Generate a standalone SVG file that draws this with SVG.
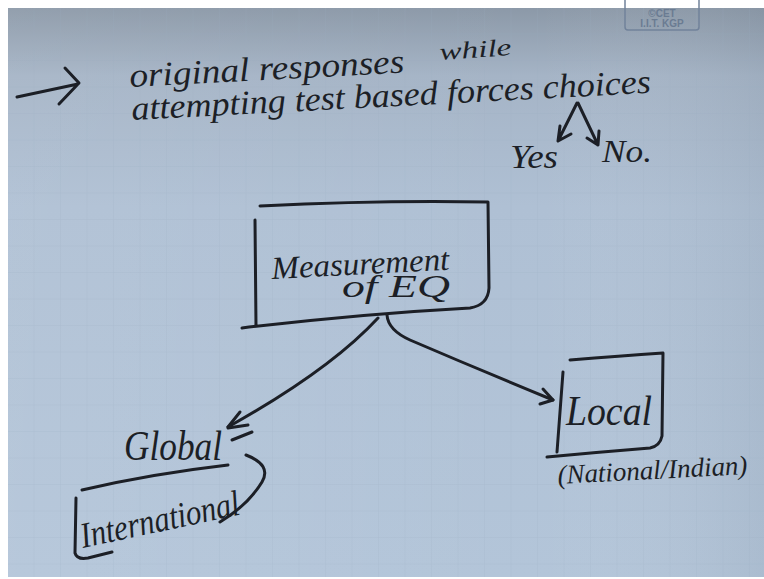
<svg xmlns="http://www.w3.org/2000/svg" width="764" height="579" viewBox="0 0 764 579">
  <defs>
    <linearGradient id="paper" x1="0" y1="0" x2="0" y2="1">
      <stop offset="0" stop-color="#8c99a8"/>
      <stop offset="0.12" stop-color="#a5b4c6"/>
      <stop offset="0.35" stop-color="#afc0d4"/>
      <stop offset="1" stop-color="#b3c5d9"/>
    </linearGradient>
    <linearGradient id="side" x1="0" y1="0" x2="1" y2="0">
      <stop offset="0" stop-color="#ffffff" stop-opacity="0.06"/>
      <stop offset="0.7" stop-color="#ffffff" stop-opacity="0"/>
      <stop offset="1" stop-color="#6d7a88" stop-opacity="0.12"/>
    </linearGradient>
    <pattern id="grid" width="26.5" height="26.5" patternUnits="userSpaceOnUse" x="8" y="8">
      <path d="M26.5 0V26.5M0 26.5H26.5" fill="none" stroke="#98aac0" stroke-width="1" opacity="0.3"/>
    </pattern>
  </defs>
  <style>
    .ink { fill: none; stroke: #1c1f26; stroke-width: 3; stroke-linecap: round; stroke-linejoin: round; }
    .hw { font-family: "Liberation Serif", serif; font-style: italic; fill: #1c1f26; }
    .wm { font-family: "Liberation Sans", sans-serif; font-weight: bold; fill: #6a7b92; }
  </style>

  <rect width="764" height="579" fill="#ffffff"/>
  <rect x="8" y="8" width="756" height="569" fill="url(#paper)"/>
  <rect x="8" y="8" width="756" height="569" fill="url(#side)"/>
  <rect x="8" y="8" width="756" height="569" fill="url(#grid)"/>

  <g id="watermark">
    <rect x="625" y="-4" width="74" height="34" rx="3" fill="none" stroke="#71829a" stroke-width="1.5"/>
    <text class="wm" x="662" y="17" font-size="10" text-anchor="middle">©CET</text>
    <text class="wm" x="662" y="27" font-size="10" text-anchor="middle">I.I.T. KGP</text>
  </g>

  <g id="note">
    <path class="ink" d="M17 97 L78 84 M65 68 L79 83 L59 104"/>
    <text class="hw" x="130" y="87" font-size="34" textLength="275" lengthAdjust="spacingAndGlyphs" transform="rotate(-3 130 87)">original responses</text>
    <text class="hw" x="440" y="60" font-size="24" textLength="72" lengthAdjust="spacingAndGlyphs" transform="rotate(-4 440 60)">while</text>
    <text class="hw" x="132" y="120" font-size="34" textLength="520" lengthAdjust="spacingAndGlyphs" transform="rotate(-3 132 120)">attempting test based forces choices</text>
    <path class="ink" d="M577 103 L558 141 M558 141 L560 126 M558 141 L571 134 M578 103 L598 145 M598 145 L587 138 M598 145 L599 131"/>
    <text class="hw" x="510" y="168" font-size="34" textLength="48" lengthAdjust="spacingAndGlyphs">Yes</text>
    <text class="hw" x="602" y="162" font-size="32" textLength="50" lengthAdjust="spacingAndGlyphs">No.</text>
  </g>

  <g id="measurement">
    <path class="ink" d="M260 206 Q380 200 488 202 L489 288 Q488 305 470 308 Q360 314 242 328 M255 220 L256 326"/>
    <text class="hw" x="272" y="279" font-size="32" textLength="178" lengthAdjust="spacingAndGlyphs" transform="rotate(-3 272 279)">Measurement</text>
    <text class="hw" x="342" y="297" font-size="32" textLength="108" lengthAdjust="spacingAndGlyphs">of  EQ</text>
  </g>

  <g id="connectors">
    <path class="ink" d="M378 318 Q330 370 228 427"/>
    <path class="ink" d="M228 427 L240 412 M228 428 L248 425 M232 440 L252 432"/>
    <path class="ink" d="M387 315 Q388 330 410 340 Q480 370 553 400"/>
    <path class="ink" d="M553 400 L543 389 M553 400 L540 404"/>
  </g>

  <g id="global">
    <text class="hw" x="124" y="460" font-size="42" textLength="98" lengthAdjust="spacingAndGlyphs">Global</text>
    <path class="ink" d="M82 490 Q150 474 228 465"/>
    <path class="ink" d="M246 455 Q272 465 262 482 Q248 505 220 522"/>
    <path class="ink" d="M76 498 L75 553 Q77 560 88 558 L112 552"/>
    <text class="hw" x="83" y="548" font-size="36" textLength="162" lengthAdjust="spacingAndGlyphs" transform="rotate(-12 83 548)">International</text>
  </g>

  <g id="local">
    <path class="ink" d="M570 360 Q620 356 663 353 L662 436 Q660 446 650 448 Q600 452 547 457 M563 372 L557 452"/>
    <text class="hw" x="566" y="425" font-size="42" textLength="86" lengthAdjust="spacingAndGlyphs">Local</text>
    <text class="hw" x="558" y="484" font-size="27" textLength="190" lengthAdjust="spacingAndGlyphs" transform="rotate(-3 558 484)">(National/Indian)</text>
  </g>
</svg>
